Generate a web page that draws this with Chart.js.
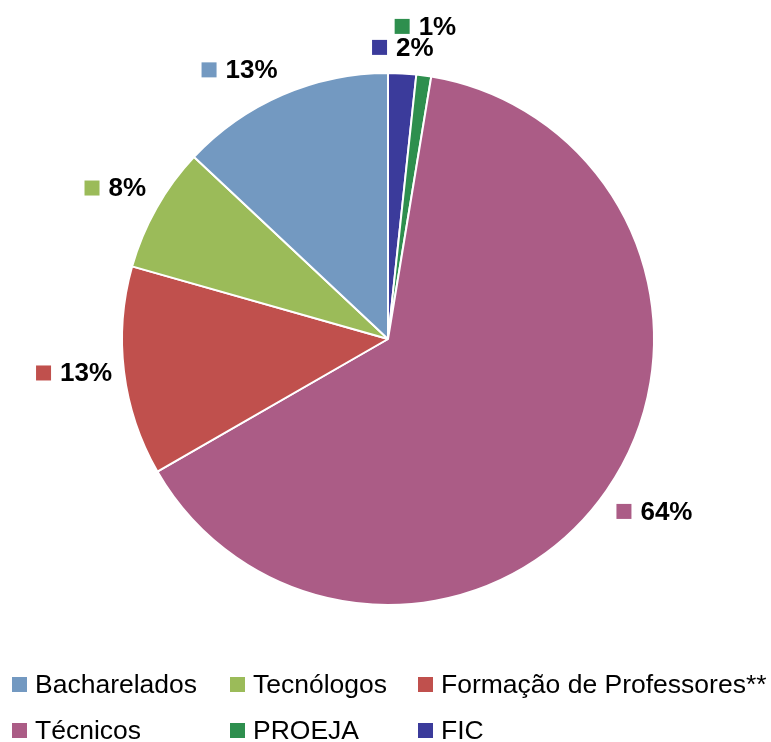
<!DOCTYPE html>
<html lang="pt">
<head>
<meta charset="UTF-8">
<title>Cursos</title>
<style>
  body { margin: 0; background: #fff; }
  #wrap { position: relative; width: 771px; height: 742px; }
  #pie { position: absolute; left: 0; top: 0; }
  .leg { position: absolute; font-family: "Liberation Sans", Arial, sans-serif; font-size: 26.5px; color: #000;
         white-space: nowrap; line-height: 30px; }
  .leg span { display: inline-block; width: 15px; height: 15px; margin-right: 8px; vertical-align: 1px; }
</style>
</head>
<body>
<div id="wrap">
  <canvas id="pie" width="771" height="742"></canvas>
</div>
<script src="https://cdn.jsdelivr.net/npm/chart.js@4"></script>
<script>
// legend order
var categorias = ['Bacharelados', 'Tecnólogos', 'Formação de Professores**', 'Técnicos', 'PROEJA', 'FIC'];
var valores = [13.0, 7.6, 12.7, 64.1, 0.9, 1.7];
var cores = ['#7399C1', '#9BBB59', '#C0504D', '#AB5C86', '#2E8F4E', '#3B3B9B'];

// the slices go clockwise from the top in reverse legend order
var ordem = [5, 4, 3, 2, 1, 0];

var rotulos = {
    id: 'rotulos',
    afterDatasetsDraw: function (chart) {
        var ctx = chart.ctx;
        var meta = chart.getDatasetMeta(0);
        var dados = chart.data.datasets[0].data;
        var total = dados.reduce(function (a, b) { return a + b; }, 0);
        var caixas = [];
        ctx.save();
        ctx.font = 'bold 26px "Liberation Sans", Arial, sans-serif';
        ctx.textBaseline = 'middle';
        meta.data.forEach(function (arc, i) {
            var p = arc.getProps(['x', 'y', 'startAngle', 'endAngle', 'outerRadius']);
            var a = (p.startAngle + p.endAngle) / 2;
            var dx = Math.cos(a), dy = Math.sin(a);
            var ax = p.x + dx * (p.outerRadius + 12);
            var ay = p.y + dy * (p.outerRadius + 12);
            var txt = Math.round(dados[i] / total * 100) + '%';
            var w = 15 + 9 + ctx.measureText(txt).width;
            var h = 21;
            var left = Math.abs(dx) < 0.2 ? ax - w / 2 : (dx > 0 ? ax : ax - w);
            var cy = Math.abs(dy) < 0.2 ? ay : (dy < 0 ? ay - 14 : ay + 14);
            // push up if it hits a label already placed
            caixas.forEach(function (c) {
                if (left < c.l + c.w && left + w > c.l && Math.abs(cy - c.cy) < h) {
                    cy = c.cy - h;
                }
            });
            caixas.push({ l: left, cy: cy, w: w });
            ctx.fillStyle = chart.data.datasets[0].backgroundColor[i];
            ctx.fillRect(left, cy - 7.5, 15, 15);
            ctx.fillStyle = '#000';
            ctx.fillText(txt, left + 24, cy + 1);
        });
        ctx.restore();
    }
};

new Chart(document.getElementById('pie'), {
    type: 'pie',
    data: {
        labels: ordem.map(function (k) { return categorias[k]; }),
        datasets: [{
            data: ordem.map(function (k) { return valores[k]; }),
            backgroundColor: ordem.map(function (k) { return cores[k]; }),
            borderColor: '#fff',
            borderWidth: 2
        }]
    },
    options: {
        responsive: false,
        animation: false,
        layout: { padding: { left: 121, right: 116, top: 72, bottom: 136 } },
        plugins: { legend: { display: false }, tooltip: { enabled: false } }
    },
    plugins: [rotulos]
});

// legend, 3 columns x 2 rows
var colX = [12, 230, 418];
var rowY = [669, 715];
var wrap = document.getElementById('wrap');
categorias.forEach(function (nome, k) {
    var d = document.createElement('div');
    d.className = 'leg';
    d.style.left = colX[k % 3] + 'px';
    d.style.top = rowY[Math.floor(k / 3)] + 'px';
    d.innerHTML = '<span style="background:' + cores[k] + '"></span>' + nome;
    wrap.appendChild(d);
});
</script>
</body>
</html>
